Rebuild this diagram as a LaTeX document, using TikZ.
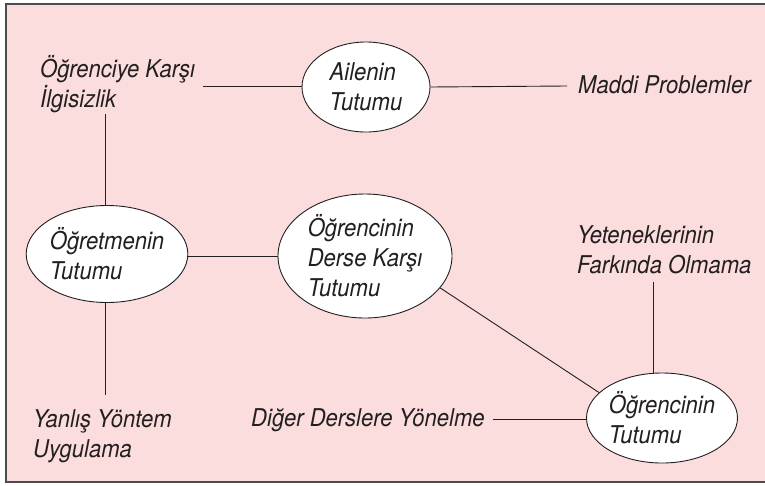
\documentclass[tikz,border=0pt]{standalone}
\usepackage{fontspec}
\setmainfont{TeX Gyre Heros}[FakeStretch=0.9]
\definecolor{bgpink}{RGB}{251,221,222}
\definecolor{inkc}{RGB}{35,31,32}
\begin{document}
\begin{tikzpicture}[x=1pt,y=-1pt,
  every node/.style={font=\fontsize{24.5}{30}\selectfont\itshape, text=inkc},
  oval/.style={ellipse, draw=inkc, line width=0.9pt, fill=white, inner sep=0pt, align=left},
  lab/.style={anchor=base west, inner sep=0pt, align=left},
  conn/.style={draw=inkc, line width=0.9pt}]
\usetikzlibrary{shapes.geometric}
\useasboundingbox (0,0) rectangle (765,485);
\fill[bgpink] (6,4) rectangle (765,482);
\draw[line width=2pt, draw=gray!60!black] (765,4) -- (6,4) -- (6,482) -- (765,482);

\node[oval, minimum width=128, minimum height=90] (ail) at (366,87) {Ailenin\\Tutumu};
\node[oval, minimum width=174, minimum height=124] (derse) at (365,256) {Öğrencinin\\Derse Karşı\\Tutumu};
\node[oval, minimum width=149, minimum height=97] (ogrt) at (107,254) {Öğretmenin\\Tutumu};
\node[oval, minimum width=151, minimum height=90] (tut) at (662,418) {Öğrencinin\\Tutumu};

\node[lab] (ilgi) at (40,107) {Öğrenciye Karşı\\İlgisizlik};
\node[lab] (maddi) at (578,93) {Maddi Problemler};
\node[lab] (yet) at (577,273) {Yeteneklerinin\\Farkında Olmama};
\node[lab] (yan) at (33,457) {Yanlış Yöntem\\Uygulama};
\node[lab] (dig) at (251,426) {Diğer Derslere Yönelme};

\coordinate (c1) at (203,86);
\coordinate (c2) at (567,86);
\coordinate (c3) at (105,114);
\coordinate (c4) at (105,395);
\coordinate (c5) at (493,419);
\coordinate (c6) at (653,282);

\draw[conn] (c1) -- (c1 -| ail.west);
\draw[conn] (ail.east) -- (c2);
\draw[conn] (c3) -- (c3 |- ogrt.north);
\draw[conn] (c4 |- ogrt.south) -- (c4);
\draw[conn] (derse.west) -- (derse.west -| ogrt.east);
\draw[conn] (derse.-23) -- (tut.158);
\draw[conn] (c5) -- (c5 -| tut.west);
\draw[conn] (c6) -- (c6 |- tut.north);
\end{tikzpicture}
\end{document}
